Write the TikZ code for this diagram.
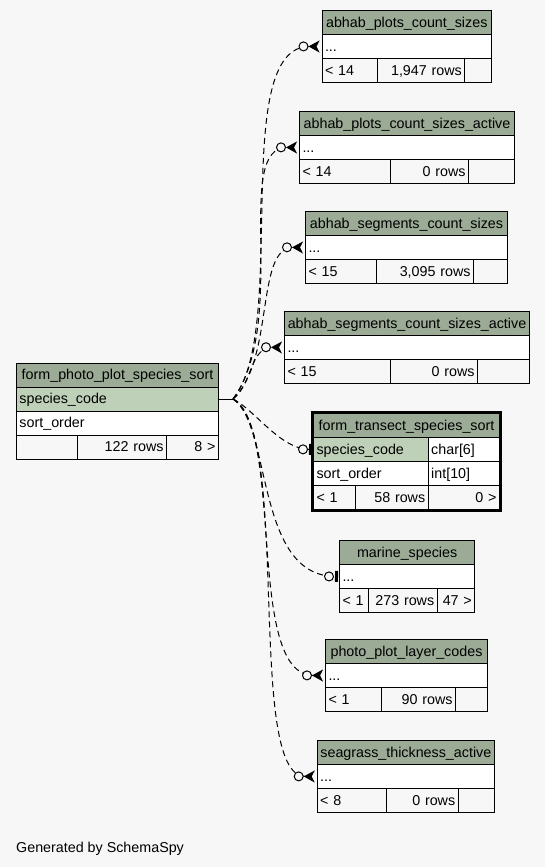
\documentclass[tikz,border=0pt]{standalone}
\usepackage{fontspec}
\setmainfont{Liberation Sans}
\usepackage{xcolor}
\usepackage{tikz}
\usetikzlibrary{arrows.meta,positioning,fit}
\definecolor{bggrey}{HTML}{F7F7F7}
\definecolor{headgreen}{HTML}{9BAB96}
\definecolor{keygreen}{HTML}{BED1B8}
\newcommand{\tablefont}{\fontsize{14.3}{17}\selectfont}

\begin{document}
\begin{tikzpicture}[x=1pt, y=-1pt,
    tblcell/.style={draw=black, line width=1pt, anchor=north west, inner xsep=3pt, inner ysep=2pt, minimum height=24pt, text height=12.9pt, text depth=3pt, font=\tablefont},
    tblhead/.style={tblcell, fill=headgreen, align=center},
    tblkey/.style={tblcell, fill=keygreen, align=left},
    tblrow/.style={tblcell, fill=white, align=left},
    footl/.style={tblcell, fill=bggrey, align=left},
    footr/.style={tblcell, fill=bggrey, align=right},
    selframe/.style={draw=black, line width=3pt, inner sep=0.5pt},
    rel/.style={line width=1pt, dash pattern=on 6pt off 4pt},
    relmany/.style={rel, -{Circle[fill=bggrey, length=10pt, width=10pt] Stealth[reversed, length=11pt, width=12pt, inset=3pt, sep=2pt]}},
    relone/.style={rel, -{Circle[fill=bggrey, length=10pt, width=10pt, sep=1pt] Rectangle[length=3pt, width=11pt, sep=1pt]}}
]
\fill[bggrey] (0,0) rectangle (545,867);
\useasboundingbox (0,0) rectangle (545,867);

\node[tblhead, text width=196pt] (fpps_head) at (16,362.5) {form\_photo\_plot\_species\_sort};
\node[tblkey, text width=196pt] (fpps_code) at (16,386.5) {species\_code};
\node[tblrow, text width=196pt] (fpps_order) at (16,410.5) {sort\_order};
\node[footl, text width=55pt] (fpps_f1) at (16,434.5) {};
\node[footr, text width=83pt] (fpps_f2) at (77,434.5) {122 rows};
\node[footr, text width=46pt] (fpps_f3) at (166,434.5) {8 >};

\node[tblhead, text width=163.5pt] (apcs_head) at (321.5,10) {abhab\_plots\_count\_sizes};
\node[tblrow, text width=163.5pt] (apcs_row) at (321.5,34) {...};
\node[footl, text width=49.2pt] (apcs_f1) at (321.5,58) {< 14};
\node[footr, text width=81.6pt] (apcs_f2) at (376.7,58) {1,947 rows};
\node[footl, text width=20.7pt] (apcs_f3) at (464.3,58) {};

\node[tblhead, text width=209pt] (apcsa_head) at (299,111) {abhab\_plots\_count\_sizes\_active};
\node[tblrow, text width=209pt] (apcsa_row) at (299,135) {...};
\node[footl, text width=85pt] (apcsa_f1) at (299,159) {< 14};
\node[footr, text width=72pt] (apcsa_f2) at (390,159) {0 rows};
\node[footl, text width=40pt] (apcsa_f3) at (468,159) {};

\node[tblhead, text width=196pt] (ascs_head) at (305,211) {abhab\_segments\_count\_sizes};
\node[tblrow, text width=196pt] (ascs_row) at (305,235) {...};
\node[footl, text width=65pt] (ascs_f1) at (305,259) {< 15};
\node[footr, text width=91pt] (ascs_f2) at (376,259) {3,095 rows};
\node[footl, text width=28pt] (ascs_f3) at (473,259) {};

\node[tblhead, text width=239pt] (ascsa_head) at (284,311) {abhab\_segments\_count\_sizes\_active};
\node[tblrow, text width=239pt] (ascsa_row) at (284,335) {...};
\node[footl, text width=100pt] (ascsa_f1) at (284,359) {< 15};
\node[footr, text width=81pt] (ascsa_f2) at (390,359) {0 rows};
\node[footl, text width=46pt] (ascsa_f3) at (477,359) {};

\node[tblhead, text width=180pt] (fts_head) at (313,413) {form\_transect\_species\_sort};
\node[tblkey, text width=108.7pt] (fts_code) at (313,437) {species\_code};
\node[tblrow, text width=65.3pt] (fts_codetype) at (427.7,437) {char[6]};
\node[tblrow, text width=108.7pt] (fts_order) at (313,461) {sort\_order};
\node[tblrow, text width=65.3pt] (fts_ordertype) at (427.7,461) {int[10]};
\node[footl, text width=36pt] (fts_f1) at (313,485) {< 1};
\node[footr, text width=66.7pt] (fts_f2) at (355,485) {58 rows};
\node[footr, text width=65.3pt] (fts_f3) at (427.7,485) {0 >};
\node[selframe, fit=(fts_head)(fts_f3)] (fts_frame) {};

\node[tblhead, text width=129.3pt] (ms_head) at (339,540) {marine\_species};
\node[tblrow, text width=129.3pt] (ms_row) at (339,564) {...};
\node[footl, text width=23.3pt] (ms_f1) at (339,588) {< 1};
\node[footr, text width=62.4pt] (ms_f2) at (368.3,588) {273 rows};
\node[footr, text width=31.6pt] (ms_f3) at (436.7,588) {47 >};

\node[tblhead, text width=156pt] (pplc_head) at (325,639) {photo\_plot\_layer\_codes};
\node[tblrow, text width=156pt] (pplc_row) at (325,663) {...};
\node[footl, text width=50pt] (pplc_f1) at (325,687) {< 1};
\node[footr, text width=68pt] (pplc_f2) at (381,687) {90 rows};
\node[footl, text width=26pt] (pplc_f3) at (455,687) {};

\node[tblhead, text width=171.3pt] (sta_head) at (316.7,740) {seagrass\_thickness\_active};
\node[tblrow, text width=171.3pt] (sta_row) at (316.7,764) {...};
\node[footl, text width=63pt] (sta_f1) at (316.7,788) {< 8};
\node[footr, text width=66pt] (sta_f2) at (385.7,788) {0 rows};
\node[footl, text width=30.3pt] (sta_f3) at (457.7,788) {};

\coordinate (fpps_port) at ([xshift=14pt]fpps_code.east);
\draw[line width=1pt] (fpps_code.east) -- (fpps_port);
\draw[relmany] (fpps_port) .. controls (290,330) and (228,46) .. (apcs_row.west);
\draw[relmany] (fpps_port) .. controls (290,320) and (232,147) .. (apcsa_row.west);
\draw[relmany] (fpps_port) .. controls (275,360) and (255,247) .. (ascs_row.west);
\draw[relmany] (fpps_port) .. controls (252,385) and (250,347) .. (ascsa_row.west);
\draw[relone] (fpps_port) .. controls (255,410) and (280,449) .. (fts_code.west);
\draw[relone] (fpps_port) .. controls (272,425) and (255,576) .. (ms_row.west);
\draw[relmany] (fpps_port) .. controls (285,430) and (245,675) .. (pplc_row.west);
\draw[relmany] (fpps_port) .. controls (292,430) and (245,776) .. (sta_row.west);

\node[anchor=base west, inner sep=0pt, font=\tablefont] (credit) at (16,852) {Generated by SchemaSpy};
\end{tikzpicture}
\end{document}
